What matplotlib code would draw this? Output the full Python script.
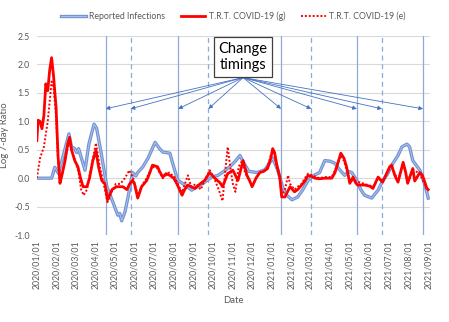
import pandas as pd
import matplotlib
matplotlib.use('Agg')
import matplotlib.pyplot as plt
import matplotlib.dates as mdates
from matplotlib.lines import Line2D

plt.rcParams['font.family'] = ['Lato', 'DejaVu Sans']

# Reported infections (log 7-day ratio)
rep_dates = ['2020-01-01', '2020-01-24', '2020-01-29', '2020-02-04', '2020-02-10', '2020-02-20',
             '2020-02-24', '2020-02-29', '2020-03-03', '2020-03-06', '2020-03-16', '2020-03-22',
             '2020-03-30', '2020-04-03', '2020-04-10', '2020-04-19', '2020-04-27', '2020-05-06',
             '2020-05-09', '2020-05-12', '2020-05-17', '2020-05-22', '2020-05-29', '2020-06-03',
             '2020-06-06', '2020-06-14', '2020-06-22', '2020-07-03', '2020-07-10', '2020-07-15',
             '2020-07-26', '2020-08-01', '2020-08-07', '2020-08-18', '2020-08-29', '2020-09-07',
             '2020-09-18', '2020-09-29', '2020-10-09', '2020-10-18', '2020-10-27', '2020-11-05',
             '2020-11-12', '2020-11-19', '2020-11-26', '2020-12-09', '2020-12-21', '2021-01-02',
             '2021-01-10', '2021-01-18', '2021-01-24', '2021-02-01', '2021-02-10', '2021-02-18',
             '2021-02-26', '2021-03-07', '2021-03-16', '2021-03-24', '2021-04-01', '2021-04-09',
             '2021-04-16', '2021-04-24', '2021-04-30', '2021-05-05', '2021-05-13', '2021-05-19',
             '2021-05-25', '2021-06-05', '2021-06-15', '2021-06-22', '2021-06-30', '2021-07-08',
             '2021-07-16', '2021-07-22', '2021-07-30', '2021-08-03', '2021-08-08', '2021-08-19',
             '2021-08-27', '2021-09-01']
rep_vals = [0.0, 0.0, 0.19, 0.08, 0.35, 0.78,
            0.55, 0.52, 0.45, 0.52, 0.14, 0.6,
            0.95, 0.88, 0.45, -0.15, -0.38, -0.65,
            -0.62, -0.75, -0.6, -0.33, 0.1, 0.04,
            0.1, 0.2, 0.35, 0.63, 0.52, 0.46,
            0.44, 0.2, -0.03, -0.12, -0.21, -0.15,
            -0.07, 0.02, 0.05, 0.12, 0.2, 0.3,
            0.4, 0.25, 0.12, 0.1, 0.15, 0.35,
            0.14, -0.18, -0.3, -0.38, -0.33, -0.2,
            -0.04, 0.05, 0.1, 0.31, 0.3, 0.26,
            0.15, 0.05, 0.12, 0.1, -0.04, -0.2,
            -0.3, -0.35, -0.21, -0.05, 0.08, 0.26,
            0.4, 0.55, 0.6, 0.55, 0.31, 0.14,
            -0.12, -0.35]

# T.R.T. COVID-19 (g)
g_dates = ['2020-01-01', '2020-01-03', '2020-01-06', '2020-01-09', '2020-01-12', '2020-01-15',
           '2020-01-18', '2020-01-21', '2020-01-24', '2020-01-27', '2020-01-31', '2020-02-03',
           '2020-02-06', '2020-02-09', '2020-02-14', '2020-02-18', '2020-02-21', '2020-02-24',
           '2020-02-29', '2020-03-05', '2020-03-09', '2020-03-13', '2020-03-19', '2020-03-23',
           '2020-03-28', '2020-04-02', '2020-04-06', '2020-04-11', '2020-04-16', '2020-04-20',
           '2020-04-27', '2020-05-04', '2020-05-14', '2020-05-20', '2020-05-25', '2020-05-29',
           '2020-06-01', '2020-06-06', '2020-06-12', '2020-06-20', '2020-06-25', '2020-06-29',
           '2020-07-07', '2020-07-10', '2020-07-15', '2020-07-20', '2020-07-26', '2020-08-01',
           '2020-08-06', '2020-08-14', '2020-08-18', '2020-08-23', '2020-09-03', '2020-09-11',
           '2020-09-18', '2020-09-26', '2020-10-04', '2020-10-12', '2020-10-16', '2020-10-24',
           '2020-11-01', '2020-11-09', '2020-11-17', '2020-11-23', '2020-11-27', '2020-12-01',
           '2020-12-07', '2020-12-13', '2020-12-19', '2020-12-25', '2020-12-30', '2021-01-02',
           '2021-01-05', '2021-01-08', '2021-01-13', '2021-01-16', '2021-01-21', '2021-01-29',
           '2021-02-05', '2021-02-10', '2021-02-16', '2021-02-21', '2021-02-26', '2021-03-04',
           '2021-03-09', '2021-03-16', '2021-03-24', '2021-04-04', '2021-04-09', '2021-04-13',
           '2021-04-18', '2021-04-23', '2021-04-27', '2021-05-02', '2021-05-07', '2021-05-11',
           '2021-05-14', '2021-05-25', '2021-06-02', '2021-06-07', '2021-06-15', '2021-06-22',
           '2021-06-29', '2021-07-03', '2021-07-06', '2021-07-11', '2021-07-16', '2021-07-24',
           '2021-07-28', '2021-07-31', '2021-08-08', '2021-08-11', '2021-08-19', '2021-08-23',
           '2021-08-30', '2021-09-01']
g_vals = [0.66, 1.02, 1.0, 0.87, 1.1, 1.66,
          1.54, 1.9, 2.12, 1.8, 1.24, 0.4,
          -0.09, 0.05, 0.31, 0.6, 0.72, 0.5,
          0.31, 0.2, 0.0, -0.15, -0.15, 0.0,
          0.3, 0.49, 0.2, -0.04, -0.1, -0.38,
          -0.2, -0.15, -0.15, -0.2, -0.09, -0.04,
          -0.1, -0.35, -0.15, -0.04, 0.1, 0.23,
          0.2, 0.12, 0.02, 0.08, 0.05, 0.0,
          -0.1, -0.3, -0.2, -0.12, -0.18, -0.1,
          -0.04, 0.1, 0.0, -0.08, -0.15, 0.08,
          0.14, -0.04, 0.31, 0.05, -0.04, -0.15,
          0.0, 0.1, 0.12, 0.17, 0.35, 0.52,
          0.45, 0.26, 0.02, -0.33, -0.33, -0.15,
          -0.24, -0.2, -0.12, -0.05, 0.05, 0.03,
          0.0, -0.01, 0.0, 0.0, 0.1, 0.25,
          0.44, 0.35, 0.2, -0.09, 0.02, -0.08,
          -0.12, -0.12, -0.14, -0.18, 0.02, -0.07,
          0.1, 0.2, 0.23, 0.05, -0.07, 0.28,
          0.1, -0.09, 0.17, -0.05, 0.1, 0.05,
          -0.18, -0.2]

# T.R.T. COVID-19 (e)
e_dates = ['2020-01-01', '2020-01-06', '2020-01-12', '2020-01-18', '2020-01-24', '2020-01-27',
           '2020-01-31', '2020-02-03', '2020-02-06', '2020-02-10', '2020-02-15', '2020-02-21',
           '2020-02-25', '2020-03-01', '2020-03-06', '2020-03-10', '2020-03-14', '2020-03-19',
           '2020-03-24', '2020-04-02', '2020-04-08', '2020-04-14', '2020-04-20', '2020-04-26',
           '2020-05-03', '2020-05-10', '2020-05-17', '2020-05-24', '2020-05-30', '2020-06-06',
           '2020-06-13', '2020-06-20', '2020-06-28', '2020-07-06', '2020-07-15', '2020-07-25',
           '2020-08-02', '2020-08-08', '2020-08-14', '2020-08-23', '2020-08-28', '2020-09-05',
           '2020-09-12', '2020-09-20', '2020-09-26', '2020-10-03', '2020-10-10', '2020-10-16',
           '2020-10-20', '2020-10-24', '2020-10-28', '2020-11-01', '2020-11-05', '2020-11-10',
           '2020-11-15', '2020-11-20', '2020-11-27', '2020-12-01', '2020-12-07', '2020-12-13',
           '2020-12-19', '2020-12-25', '2020-12-30', '2021-01-02', '2021-01-05', '2021-01-08',
           '2021-01-13', '2021-01-16', '2021-01-21', '2021-01-26', '2021-01-29', '2021-02-05',
           '2021-02-10', '2021-02-16', '2021-02-21', '2021-02-26', '2021-03-04', '2021-03-16',
           '2021-03-24', '2021-04-04', '2021-04-13', '2021-04-18', '2021-04-23', '2021-05-02',
           '2021-05-11', '2021-05-25', '2021-06-07', '2021-06-15', '2021-06-22', '2021-06-29',
           '2021-07-06', '2021-07-16', '2021-07-24', '2021-07-31', '2021-08-08', '2021-08-19',
           '2021-08-30', '2021-09-01']
e_vals = [0.0, 0.35, 0.55, 1.0, 1.7, 1.6,
          1.1, 0.3, -0.05, 0.1, 0.4, 0.65,
          0.45, 0.3, 0.1, -0.2, -0.3, -0.2,
          0.1, 0.62, 0.2, -0.1, -0.42, -0.25,
          -0.1, -0.1, 0.0, 0.14, 0.0, -0.3,
          -0.12, 0.0, 0.2, 0.18, 0.0, 0.1,
          0.02, -0.12, -0.25, 0.05, -0.15, -0.1,
          -0.2, 0.0, 0.14, 0.0, -0.2, -0.4,
          0.1, 0.55, 0.2, -0.1, -0.24, 0.2,
          0.3, 0.1, -0.05, -0.15, 0.0, 0.1,
          0.12, 0.2, 0.4, 0.48, 0.4, 0.2,
          0.0, -0.3, -0.2, 0.05, -0.1, -0.2,
          -0.15, -0.1, 0.0, 0.08, 0.05, 0.0,
          0.02, 0.02, 0.25, 0.4, 0.3, -0.05,
          -0.05, -0.1, -0.15, 0.0, -0.05, 0.1,
          0.22, -0.05, 0.25, -0.05, 0.15, 0.08,
          -0.2, -0.22]

# change timings (solid / dashed alternate)
change_dates = ['2020-04-17', '2020-05-26', '2020-08-08', '2020-09-24', '2021-01-15',
                '2021-03-03', '2021-05-13', '2021-06-21', '2021-08-24']
change_solid = [True, False, True, False, True, False, True, False, True]

rep = pd.Series(rep_vals, index=pd.to_datetime(rep_dates))
g = pd.Series(g_vals, index=pd.to_datetime(g_dates))
e = pd.Series(e_vals, index=pd.to_datetime(e_dates))

fig = plt.figure(figsize=(4.49, 3.22), dpi=100)
ax = fig.add_axes([0.082, 0.27, 0.876, 0.618])

gray = '#595959'
line_blue = '#8eaadb'
rep_outer = '#7393d4'
rep_inner = '#adc1ea'

for d, solid in zip(change_dates, change_solid):
    ax.axvline(pd.Timestamp(d), color=line_blue, lw=0.9, ls='-' if solid else (0, (4, 3)), zorder=1)

ax.plot(rep.index, rep.values, color=rep_outer, lw=2.4, zorder=3)
ax.plot(rep.index, rep.values, color=rep_inner, lw=0.7, zorder=3)
ax.plot(e.index, e.values, color='#ff0000', lw=1.4, ls=(0, (1, 1)), zorder=4)
ax.plot(g.index, g.values, color='#ff0000', lw=2.0, zorder=5)

h_rep = (Line2D([], [], color=rep_outer, lw=2.4), Line2D([], [], color=rep_inner, lw=0.7))
h_g = Line2D([], [], color='#ff0000', lw=2.0)
h_e = Line2D([], [], color='#ff0000', lw=1.4, ls=(0, (1, 1)))
leg = fig.legend([h_rep, h_g, h_e], ['Reported Infections', 'T.R.T. COVID-19 (g)', 'T.R.T. COVID-19 (e)'],
                 loc='center', bbox_to_anchor=(0.52, 0.95), ncol=3, frameon=False, fontsize=6.3,
                 handlelength=2.8, columnspacing=1.8, handletextpad=0.4)
for t in leg.get_texts():
    t.set_color(gray)

# annotation box with arrows to each change timing
box_x = pd.Timestamp('2020-11-17')
for d in change_dates:
    ax.annotate('', xy=(pd.Timestamp(d), 1.22), xytext=(box_x, 1.77),
                arrowprops=dict(arrowstyle='-|>', color='#4472c4', lw=0.6, mutation_scale=6,
                                shrinkA=0, shrinkB=0), zorder=6)
ax.text(box_x, 2.13, 'Change\ntimings', ha='center', va='center', fontsize=10.5,
        linespacing=1.25, zorder=7,
        bbox=dict(boxstyle='square,pad=0.33', fc='white', ec='#404040', lw=0.9))

ax.set_xlim(pd.Timestamp('2020-01-01'), pd.Timestamp('2021-09-04'))
ax.set_ylim(-1.0, 2.5)
ax.set_yticks([-1.0, -0.5, 0.0, 0.5, 1.0, 1.5, 2.0, 2.5])
ax.yaxis.set_major_formatter(plt.FormatStrFormatter('%.1f'))
ax.xaxis.set_major_locator(mdates.MonthLocator())
ax.xaxis.set_major_formatter(mdates.DateFormatter('%Y/%m/%d'))
ax.tick_params(axis='x', rotation=90, labelsize=6.3, colors=gray, length=0, pad=4)
ax.tick_params(axis='y', labelsize=6.3, colors=gray, length=0, pad=5)
ax.grid(axis='y', color='#d9d9d9', lw=0.8)
ax.set_axisbelow(True)
for s in ax.spines.values():
    s.set_visible(False)

ax.set_xlabel('Date', fontsize=6.8, color=gray, labelpad=5)
ax.set_ylabel('Log 7-day Ratio', fontsize=6.8, color=gray, labelpad=4)

fig.savefig('out.png', dpi=100)
